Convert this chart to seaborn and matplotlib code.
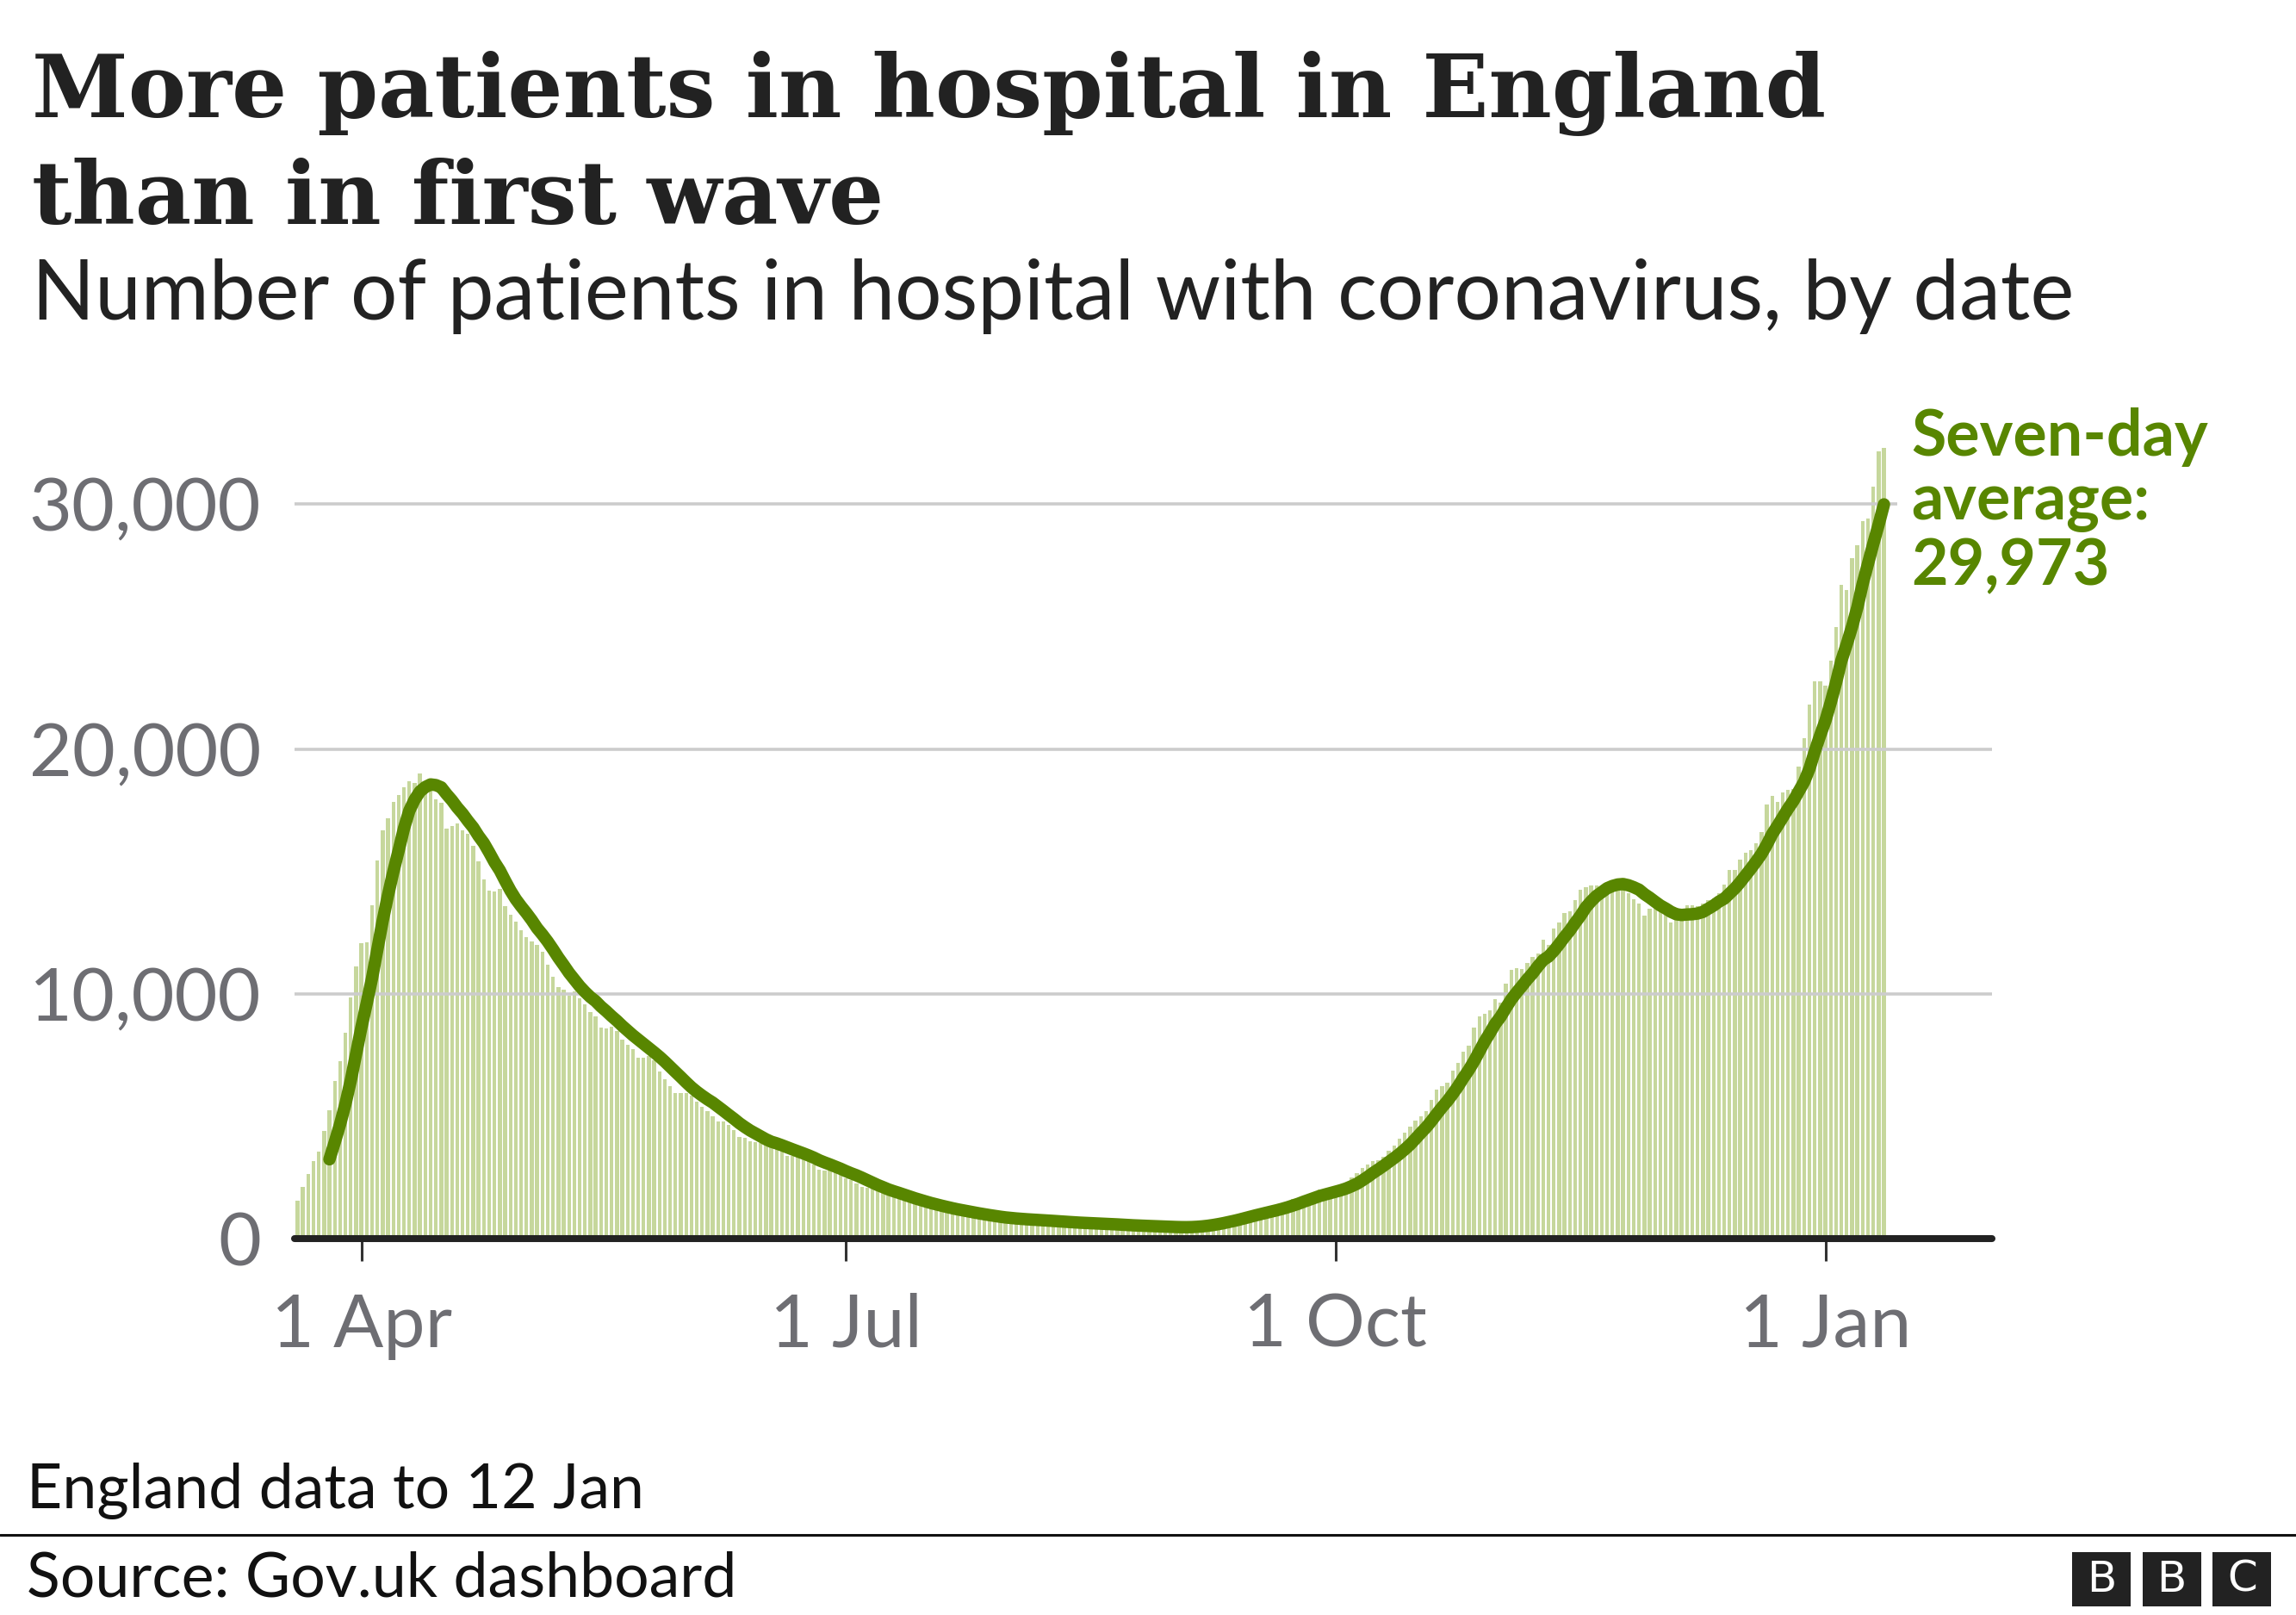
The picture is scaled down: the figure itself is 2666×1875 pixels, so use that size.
import numpy as np
import pandas as pd
import matplotlib.pyplot as plt
import seaborn as sns
from matplotlib.patches import Rectangle

# patients in hospital with coronavirus, England, one value per day from 20 Mar 2020
mar = [1560, 2130, 2660, 3190, 3570, 4390, 5240, 6460, 7270, 8430, 9850, 11140]
apr = [12060, 12120, 13640, 15440, 16670, 17170, 17840, 18140, 18440, 18680,
       18610, 19000, 18430, 18600, 17940, 17800, 16740, 16850, 16960, 16670,
       16530, 16040, 15400, 14670, 14210, 14180, 14290, 13580, 13220, 12950]
may = [12620, 12310, 12130, 12020, 11730, 11210, 10720, 10270, 10180, 9920,
       10110, 9820, 9580, 9250, 9080, 8640, 8610, 8680, 8500, 8120,
       7910, 7740, 7410, 7410, 7450, 7280, 6850, 6530, 6250, 5950, 5950]
jun = [5950, 5850, 5600, 5400, 5200, 4990, 4800, 4800, 4660, 4450,
       4170, 4130, 3990, 3950, 3930, 3840, 3760, 3700, 3580, 3400,
       3370, 3370, 3270, 3170, 3050, 2830, 2790, 2800, 2760, 2660]
jul = [2480, 2420, 2260, 2120, 2090, 2050, 1960, 1870, 1780, 1740,
       1640, 1580, 1520, 1470, 1410, 1330, 1300, 1250, 1200, 1160,
       1120, 1080, 1040, 1000, 970, 930, 900, 870, 840, 820, 800]
aug = [810, 790, 780, 760, 750, 740, 720, 700, 680, 670,
       660, 650, 640, 630, 630, 620, 610, 590, 570, 560,
       550, 540, 530, 530, 520, 510, 500, 490, 480, 480, 470]
sep = [460, 470, 490, 520, 560, 600, 640, 680, 730, 780,
       840, 900, 970, 1040, 1080, 1120, 1160, 1200, 1260, 1340,
       1440, 1520, 1620, 1660, 1780, 1800, 1860, 2000, 1950, 2020]
oct_ = [2080, 2200, 2300, 2500, 2700, 2900, 3030, 3190, 3210, 3350,
        3610, 3820, 4080, 4320, 4580, 4830, 5020, 5200, 5660, 6090,
        6250, 6360, 6860, 7180, 7630, 7880, 8620, 9080, 9180, 9330, 9790]
nov = [9640, 10430, 11000, 11060, 11020, 11250, 11500, 11650, 12230, 12000,
       12690, 12930, 13290, 13360, 13850, 14270, 14370, 14440, 14440, 14400,
       14450, 14500, 14690, 14500, 14100, 13870, 13700, 13200, 13470, 13550]
dec = [13400, 13240, 12920, 13010, 12990, 13610, 13630, 13600, 13700, 13840,
       13910, 14100, 14460, 15080, 15080, 15470, 15770, 15860, 16160, 16610,
       17740, 18080, 17830, 18240, 18340, 18380, 19300, 20450, 21820, 22770, 22770]
jan = [22580, 23620, 24990, 26710, 26480, 27790, 28320, 29300, 29400, 30700, 32150, 32290]

start_date = "2020-03-20"
tick_dates = ["2020-04-01", "2020-07-01", "2020-10-01", "2021-01-01"]
tick_labels = ["1 Apr", "1 Jul", "1 Oct", "1 Jan"]
y_ticks = [0, 10000, 20000, 30000]
y_labels = ["0", "10,000", "20,000", "30,000"]
avg_label = "Seven-day\naverage:\n29,973"

bar_col = "#c6d79c"
line_col = "#588600"
grey = "#6e6e73"

patients = mar + apr + may + jun + jul + aug + sep + oct_ + nov + dec + jan
df = pd.DataFrame({"date": pd.date_range(start_date, periods=len(patients)),
                   "patients": patients})
df["day"] = np.arange(len(df))
df["avg"] = df["patients"].rolling(7).mean()
tick_pos = [int(df.index[df["date"] == pd.Timestamp(d)][0]) for d in tick_dates]

sns.set_theme(style="white")
plt.rcParams["font.family"] = ["Lato", "DejaVu Sans"]

fig = plt.figure(figsize=(13.33, 9.375), dpi=200)
ax = fig.add_axes([0.1283, 0.2329, 0.7393, 0.5004])

sns.barplot(data=df, x="day", y="patients", color=bar_col, saturation=1,
            width=0.7, errorbar=None, native_scale=True, linewidth=0,
            edgecolor="none", ax=ax, zorder=1)

# gridlines sit over the bars but under the average line
for v in y_ticks[1:]:
    xmax = 300.5 if v == 30000 else 318.3
    ax.hlines(v, -0.55, xmax, color="#cccccc", lw=1.3, zorder=2)

sns.lineplot(data=df.dropna(), x="day", y="avg", color=line_col,
             linewidth=5.2, ax=ax, zorder=3)
ax.axhline(0, color="#222222", lw=2.9, zorder=4, clip_on=False)

ax.set_xlim(-0.55, 318.3)
ax.set_ylim(0, 33000)
ax.set_xticks(tick_pos)
ax.set_xticklabels(tick_labels)
ax.set_yticks(y_ticks)
ax.set_yticklabels(y_labels)
ax.set_xlabel("")
ax.set_ylabel("")
for s in ax.spines.values():
    s.set_visible(False)
ax.tick_params(axis="x", bottom=True, length=9.4, width=1.1, color="#333333",
               direction="out", pad=13, labelsize=31, labelcolor=grey)
ax.tick_params(axis="y", left=False, length=0, pad=14, labelsize=31, labelcolor=grey)
ax.grid(False)

fig.text(0.8323, 0.748, avg_label, color=line_col, fontsize=26.5,
         fontweight="bold", va="top", ha="left", linespacing=1.1)

# headings
fig.text(0.0139, 0.9275, "More patients in hospital in England", family="DejaVu Serif",
         fontweight="bold", fontsize=36.3, color="#222222", va="baseline")
fig.text(0.0139, 0.8613, "than in first wave", family="DejaVu Serif",
         fontweight="bold", fontsize=36.3, color="#222222", va="baseline")
fig.text(0.0139, 0.802, "Number of patients in hospital with coronavirus, by date",
         fontsize=34.6, color="#222222", va="baseline")

# footer
fig.text(0.0115, 0.066, "England data to 12 Jan", fontsize=25.8, color="#111111", va="baseline")
fig.add_artist(plt.Line2D([0, 1], [0.0496, 0.0496], color="#111111", lw=1.1))
fig.text(0.0115, 0.0117, "Source: Gov.uk dashboard", fontsize=25.8, color="#111111", va="baseline")
for i, letter in enumerate("BBC"):
    x0 = 0.9025 + i * 0.0306
    fig.add_artist(Rectangle((x0, 0.0053), 0.0255, 0.0336, transform=fig.transFigure,
                             facecolor="#222222", edgecolor="none"))
    fig.text(x0 + 0.01275, 0.0053 + 0.0168, letter, color="white", fontsize=18,
             ha="center", va="center", family="DejaVu Sans")

fig.savefig("out.png", dpi=200)
